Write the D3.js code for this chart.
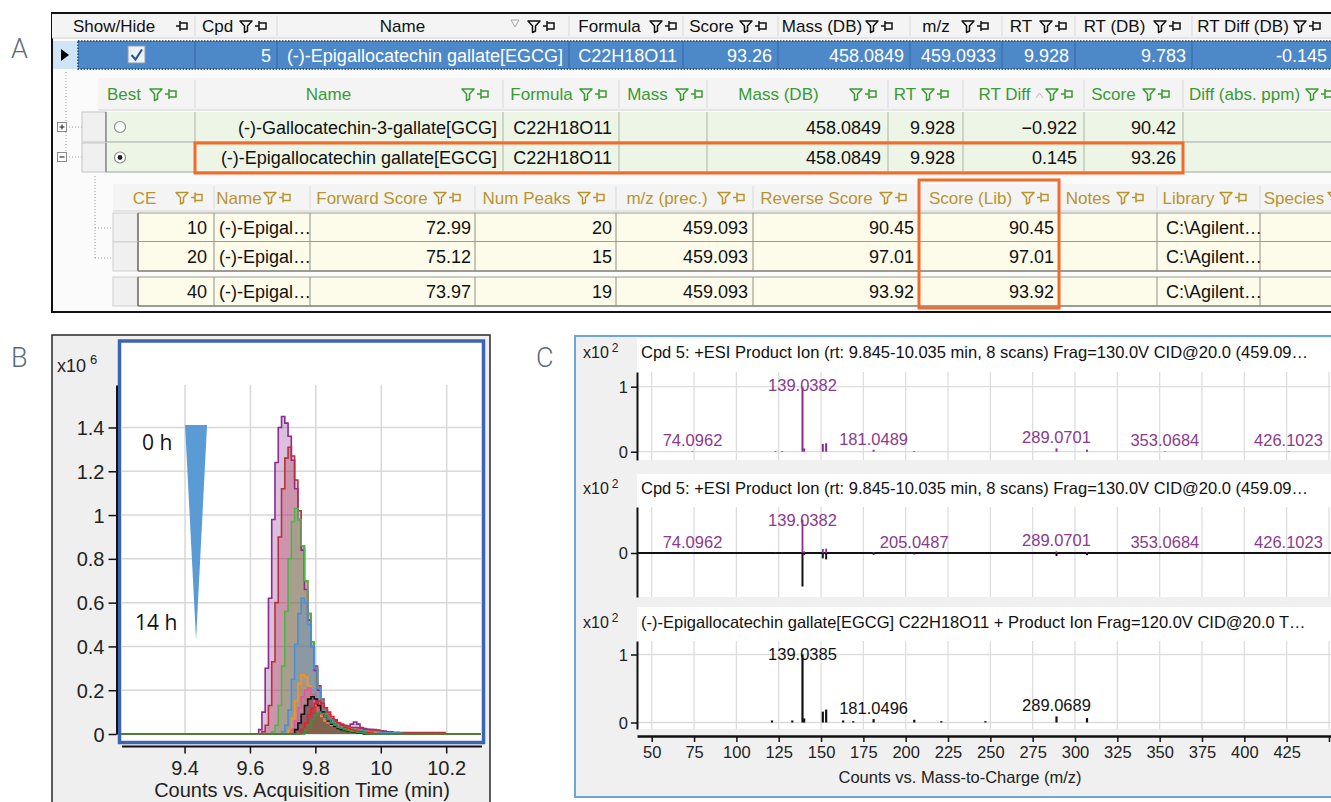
<!DOCTYPE html>
<html>
<head>
<meta charset="utf-8">
<script src="https://cdn.jsdelivr.net/npm/d3@7/dist/d3.min.js"></script>
<style>
  html, body { margin: 0; padding: 0; background: #ffffff; }
  svg { display: block; }
</style>
</head>
<body>
<svg id="figure" width="1331" height="802"></svg>
<script>
// ---------------- Panel A: identification results table ----------------
const compoundHeaders = ["Show/Hide", "Cpd", "Name", "Formula", "Score", "Mass (DB)", "m/z", "RT", "RT (DB)", "RT Diff (DB)"];
const compoundValues = ["", "5", "(-)-Epigallocatechin gallate[EGCG]", "C22H18O11", "93.26", "458.0849", "459.0933", "9.928", "9.783", "-0.145"];

const hitHeaders = ["Best", "Name", "Formula", "Mass", "Mass (DB)", "RT", "RT Diff", "Score", "Diff (abs. ppm)"];
const hitNames = ["(-)-Gallocatechin-3-gallate[GCG]", "(-)-Epigallocatechin gallate[EGCG]"];
const hitFormulas = ["C22H18O11", "C22H18O11"];
const hitMassDB = [458.0849, 458.0849];
const hitRT = [9.928, 9.928];
const hitRTDiff = [-0.922, 0.145];
const hitScores = [90.42, 93.26];
const hitBest = [false, true];

const libHeaders = ["CE", "Name", "Forward Score", "Num Peaks", "m/z (prec.)", "Reverse Score", "Score (Lib)", "Notes", "Library", "Species"];
const libCE = [10, 20, 40];
const libNames = ["(-)-Epigal\u2026", "(-)-Epigal\u2026", "(-)-Epigal\u2026"];
const libForward = [72.99, 75.12, 73.97];
const libNumPeaks = [20, 15, 19];
const libPrecursor = [459.093, 459.093, 459.093];
const libReverse = [90.45, 97.01, 93.92];
const libScore = [90.45, 97.01, 93.92];
const libLibrary = ["C:\\Agilent\u2026", "C:\\Agilent\u2026", "C:\\Agilent\u2026"];

// ---------------- Panel B: EIC of EGCG over incubation time ----------------
const rtMinutes = [9.62, 9.63, 9.64, 9.65, 9.66, 9.67, 9.68, 9.69, 9.70, 9.71, 9.72, 9.73, 9.74, 9.75, 9.76, 9.77, 9.78, 9.79, 9.80, 9.81,
  9.82, 9.83, 9.84, 9.85, 9.86, 9.87, 9.88, 9.89, 9.90, 9.91, 9.92, 9.93, 9.94, 9.95, 9.96, 9.97, 9.98, 9.99, 10.00, 10.01,
  10.02, 10.03, 10.04, 10.05, 10.06, 10.07, 10.08, 10.09, 10.10, 10.11, 10.12, 10.13, 10.14, 10.15, 10.16, 10.17, 10.18, 10.19, 10.20];
const traceColors = ["#8b2a8f", "#b3323e", "#4cb649", "#4a8fd8", "#f7931e", "#dd55ad", "#111111", "#ee1c25", "#2e9a3c"];
const traces = [
  [0, 0.02, 0.10, 0.30, 0.62, 0.98, 1.24, 1.40, 1.45, 1.42, 1.36, 1.25, 1.12, 0.98, 0.84, 0.66, 0.52, 0.40, 0.29, 0.20,
   0.14, 0.10, 0.08, 0.06, 0.055, 0.05, 0.04, 0.035, 0.035, 0.045, 0.055, 0.045, 0.03, 0.025, 0.022, 0.02, 0.02, 0.018, 0.015, 0.012,
   0.01, 0.008, 0.006, 0.004, 0.002, 0, 0, 0, 0, 0, 0, 0, 0, 0, 0, 0, 0, 0, 0],
  [0, 0, 0.01, 0.04, 0.13, 0.33, 0.60, 0.90, 1.12, 1.26, 1.31, 1.27, 1.16, 1.02, 0.86, 0.70, 0.55, 0.42, 0.31, 0.22,
   0.16, 0.12, 0.09, 0.07, 0.06, 0.05, 0.045, 0.04, 0.035, 0.03, 0.03, 0.028, 0.025, 0.022, 0.02, 0.02, 0.018, 0.016, 0.015, 0.012,
   0.01, 0.01, 0.008, 0.008, 0.007, 0.007, 0.007, 0.007, 0.007, 0.007, 0.007, 0.007, 0.007, 0.007, 0.007, 0.007, 0.007, 0.007, 0],
  [0, 0, 0, 0, 0, 0.01, 0.04, 0.13, 0.31, 0.56, 0.80, 0.97, 1.03, 0.98, 0.86, 0.70, 0.55, 0.42, 0.30, 0.21,
   0.15, 0.11, 0.08, 0.06, 0.05, 0.04, 0.035, 0.03, 0.025, 0.022, 0.02, 0.018, 0.015, 0.012, 0.01, 0.008, 0.006, 0.005, 0.004, 0.003,
   0, 0, 0, 0, 0, 0, 0, 0, 0, 0, 0, 0, 0, 0, 0, 0, 0, 0, 0],
  [0, 0, 0, 0, 0, 0, 0, 0, 0.01, 0.04, 0.11, 0.25, 0.41, 0.55, 0.62, 0.60, 0.50, 0.40, 0.30, 0.21,
   0.15, 0.11, 0.08, 0.06, 0.05, 0.04, 0.035, 0.03, 0.025, 0.02, 0.02, 0.018, 0.015, 0.012, 0.01, 0.01, 0.008, 0.008, 0.006, 0.005,
   0.005, 0.005, 0.005, 0.004, 0.003, 0, 0, 0, 0, 0, 0, 0, 0, 0, 0, 0, 0, 0, 0],
  [0, 0, 0, 0, 0, 0, 0, 0, 0, 0, 0.02, 0.07, 0.15, 0.23, 0.27, 0.26, 0.22, 0.17, 0.13, 0.10,
   0.08, 0.06, 0.05, 0.04, 0.035, 0.03, 0.025, 0.02, 0.018, 0.015, 0.012, 0.01, 0.008, 0.006, 0.005, 0.004, 0.003, 0, 0, 0,
   0, 0, 0, 0, 0, 0, 0, 0, 0, 0, 0, 0, 0, 0, 0, 0, 0, 0, 0],
  [0, 0, 0, 0, 0, 0, 0, 0, 0, 0, 0, 0.02, 0.06, 0.12, 0.17, 0.20, 0.21, 0.18, 0.14, 0.11,
   0.09, 0.07, 0.055, 0.045, 0.035, 0.03, 0.025, 0.02, 0.016, 0.012, 0.01, 0.008, 0.006, 0.004, 0, 0, 0, 0, 0, 0,
   0, 0, 0, 0, 0, 0, 0, 0, 0, 0, 0, 0, 0, 0, 0, 0, 0, 0, 0],
  [0, 0, 0, 0, 0, 0, 0, 0, 0, 0, 0, 0, 0.02, 0.05, 0.09, 0.13, 0.16, 0.17, 0.16, 0.13,
   0.10, 0.08, 0.06, 0.045, 0.035, 0.025, 0.02, 0.016, 0.012, 0.01, 0.008, 0.006, 0.004, 0, 0, 0, 0, 0, 0, 0,
   0, 0, 0, 0, 0, 0, 0, 0, 0, 0, 0, 0, 0, 0, 0, 0, 0, 0, 0],
  [0, 0, 0, 0, 0, 0, 0, 0, 0, 0, 0, 0, 0, 0, 0.02, 0.05, 0.09, 0.12, 0.14, 0.15,
   0.14, 0.12, 0.10, 0.08, 0.065, 0.05, 0.04, 0.03, 0.025, 0.02, 0.016, 0.012, 0.01, 0.008, 0.006, 0.004, 0, 0, 0, 0,
   0, 0, 0, 0, 0, 0, 0, 0, 0, 0, 0, 0, 0, 0, 0, 0, 0, 0, 0],
  [0, 0, 0, 0, 0, 0, 0, 0, 0, 0, 0, 0, 0, 0, 0, 0.02, 0.04, 0.065, 0.085, 0.10,
   0.095, 0.08, 0.065, 0.05, 0.04, 0.03, 0.025, 0.02, 0.015, 0.012, 0.01, 0.008, 0.006, 0.004, 0, 0, 0, 0, 0, 0,
   0, 0, 0, 0, 0, 0, 0, 0, 0, 0, 0, 0, 0, 0, 0, 0, 0, 0, 0]
];
const rtTicks = [9.4, 9.6, 9.8, 10, 10.2];
const rtTickLabels = ["9.4", "9.6", "9.8", "10", "10.2"];
const countTicks = [0, 0.2, 0.4, 0.6, 0.8, 1, 1.2, 1.4];
const timeLabels = ["0 h", "14 h"];

// ---------------- Panel C: MS/MS spectra (x10^2 counts) ----------------
const sampleMz = [74.0962, 123.04, 127.04, 139.0382, 140.04, 151.04, 153.02, 181.0489, 205.0487, 289.0701, 307.08, 353.0684, 426.1023];
const sampleAbund = [0.008, 0.01, 0.01, 1.0, 0.05, 0.12, 0.13, 0.03, 0.01, 0.05, 0.03, 0.006, 0.006];
const libraryMz = [121.03, 133.03, 139.0385, 140.04, 151.04, 153.02, 163.04, 169.01, 181.0496, 205.05, 221.04, 247.06, 289.0689, 307.08];
const libraryAbund = [0.03, 0.03, 1.0, 0.06, 0.16, 0.19, 0.03, 0.02, 0.05, 0.04, 0.02, 0.02, 0.09, 0.065];
const sampleLabelsTop = [74.0962, 139.0382, 181.0489, 289.0701, 353.0684, 426.1023];
const sampleLabelsMirror = [74.0962, 139.0382, 205.0487, 289.0701, 353.0684, 426.1023];
const libraryLabels = [139.0385, 181.0496, 289.0689];
const mzTicks = [50, 75, 100, 125, 150, 175, 200, 225, 250, 275, 300, 325, 350, 375, 400, 425, 450];
const spectrumTitles = [
  "Cpd 5: +ESI Product Ion (rt: 9.845-10.035 min, 8 scans) Frag=130.0V CID@20.0 (459.09\u2026",
  "Cpd 5: +ESI Product Ion (rt: 9.845-10.035 min, 8 scans) Frag=130.0V CID@20.0 (459.09\u2026",
  "(-)-Epigallocatechin gallate[EGCG] C22H18O11 + Product Ion Frag=120.0V CID@20.0 T\u2026"
];

// ======================= drawing =======================
const svg = d3.select("#figure");
const SANS = "'Liberation Sans', Arial, Helvetica, sans-serif";

function text(g, x, y, s, o = {}) {
  return g.append("text").attr("x", x).attr("y", y).text(s)
    .attr("font-family", o.family || SANS)
    .attr("font-size", o.size || 18)
    .attr("font-weight", o.weight || 400)
    .attr("fill", o.fill || "#111")
    .attr("text-anchor", o.anchor || "start");
}
function hline(g, x0, x1, y, color, w = 1, dash = null) {
  const l = g.append("line").attr("x1", x0).attr("x2", x1).attr("y1", y).attr("y2", y)
    .attr("stroke", color).attr("stroke-width", w);
  if (dash) l.attr("stroke-dasharray", dash);
  return l;
}
function vline(g, x, y0, y1, color, w = 1, dash = null) {
  const l = g.append("line").attr("x1", x).attr("x2", x).attr("y1", y0).attr("y2", y1)
    .attr("stroke", color).attr("stroke-width", w);
  if (dash) l.attr("stroke-dasharray", dash);
  return l;
}
function filterIcon(g, x, yc, color) {
  g.append("path")
    .attr("d", `M${x},${yc - 5}H${x + 12}L${x + 7.5},${yc}V${yc + 5}L${x + 4.5},${yc + 6.5}V${yc}Z`)
    .attr("fill", "none").attr("stroke", color).attr("stroke-width", 1.5).attr("stroke-linejoin", "round");
}
function pinIcon(g, x, yc, color) {
  g.append("path")
    .attr("d", `M${x},${yc}H${x + 4}M${x + 4},${yc - 5}V${yc + 5}M${x + 4},${yc - 3}H${x + 11}V${yc + 3}H${x + 4}`)
    .attr("fill", "none").attr("stroke", color).attr("stroke-width", 1.5);
}

// ---- panel letters
[["A", 11, 58], ["B", 11, 367], ["C", 536, 367]].forEach(([s, x, y]) =>
  text(svg, x, y, s, { family: "Roboto, 'Open Sans', sans-serif", size: 27, weight: 300, fill: "#5b6b7c" }));

// ================= Panel A =================
const A = svg.append("g");
A.append("rect").attr("x", 52).attr("y", 13).attr("width", 1300).attr("height", 299)
  .attr("fill", "#fbfbfb").attr("stroke", "#111").attr("stroke-width", 2);

function headerRow(cols, names, y0, y1, color) {
  const xa = cols[0][0], xb = cols[cols.length - 1][1];
  A.append("rect").attr("x", xa).attr("y", y0).attr("width", xb - xa).attr("height", y1 - y0).attr("fill", "#f4f4f4");
  hline(A, xa, xb, y1, "#d2d2d2", 1);
  const yc = (y0 + y1) / 2;
  cols.forEach((c, i) => {
    const [a, b, ix, hasFilter] = c;
    if (i > 0) vline(A, a, y0 + 2, y1 - 2, "#d9d9d9", 1);
    text(A, (a + ix) / 2, yc + 6, names[i], { anchor: "middle", fill: color, size: 17 });
    if (hasFilter) { filterIcon(A, ix, yc, color); pinIcon(A, ix + 15, yc, color); }
    else pinIcon(A, ix, yc, color);
  });
}

// compound level
const compoundCols = [[52, 195, 176, false], [195, 277, 240, true], [277, 569, 528, true], [569, 683, 650, true],
  [683, 778, 740, true], [778, 910, 866, true], [910, 1002, 962, true], [1002, 1075, 1040, true],
  [1075, 1192, 1154, true], [1192, 1340, 1294, true]];
headerRow(compoundCols, compoundHeaders, 14, 38, "#111");
A.append("path").attr("d", "M511,20H519L515,27Z").attr("fill", "none").attr("stroke", "#aaa").attr("stroke-width", 1);

// selected compound row
A.append("rect").attr("x", 53).attr("y", 41).attr("width", 25).attr("height", 28).attr("fill", "#cfe5f7");
A.append("path").attr("d", "M61,49L69,55L61,61Z").attr("fill", "#000");
A.append("rect").attr("x", 78).attr("y", 41).attr("width", 1260).attr("height", 28)
  .attr("fill", "#4d88c8").attr("stroke", "#213a66").attr("stroke-width", 1.5).attr("stroke-dasharray", "1.5,1.5");
compoundCols.slice(1).forEach(c => vline(A, c[0], 42, 68, "#3867a3", 1));
A.append("rect").attr("x", 128).attr("y", 46).attr("width", 17).attr("height", 17)
  .attr("fill", "#edf1f8").attr("stroke", "#8d9bb0").attr("stroke-width", 1);
A.append("path").attr("d", "M131.5,55L135.5,59.5L142,49.5").attr("fill", "none").attr("stroke", "#2a4d9a").attr("stroke-width", 2);
compoundValues.forEach((v, i) => {
  if (!v) return;
  const x = i === compoundValues.length - 1 ? 1327 : compoundCols[i][1] - 6;
  text(A, x, 61.5, v, { anchor: "end", fill: "#ffffff" });
});

// tree connectors
vline(A, 66, 72, 158, "#9a9a9a", 1, "1,2");
[127, 157].forEach((yc, i) => {
  hline(A, 66, 82, yc, "#9a9a9a", 1, "1,2");
  A.append("rect").attr("x", 57.5).attr("y", yc - 4.5).attr("width", 9).attr("height", 9)
    .attr("fill", "#fff").attr("stroke", "#8a8a8a").attr("stroke-width", 1);
  hline(A, 59.5, 64.5, yc, "#333", 1.2);
  if (i === 0) vline(A, 62, yc - 2.5, yc + 2.5, "#333", 1.2);
});

// candidate hits
const hitCols = [[98, 195, 150, true], [195, 503, 462, true], [503, 619, 580, true], [619, 707, 676, true],
  [707, 888, 850, true], [888, 963, 922, true], [963, 1084, 1046, true], [1084, 1183, 1143, true], [1183, 1345, 1306, true]];
headerRow(hitCols, hitHeaders, 78, 110, "#3a9a32");
A.append("path").attr("d", "M1036,98L1039.5,93L1043,98").attr("fill", "none").attr("stroke", "#bbb").attr("stroke-width", 1);

const fmt4 = d3.format(".4f"), fmt3 = d3.format(".3f"), fmt2 = d3.format(".2f");
const hitRowsY = [[112, 142], [143, 172]];
hitRowsY.forEach(([y0, y1], r) => {
  A.append("rect").attr("x", 82).attr("y", y0).attr("width", 24).attr("height", y1 - y0)
    .attr("fill", "#f0f0f0").attr("stroke", "#c4c4c4").attr("stroke-width", 1);
  A.append("rect").attr("x", 106).attr("y", y0).attr("width", 1240).attr("height", y1 - y0).attr("fill", "#edf5e6");
  vline(A, 106, y0, y1, "#6f6f6f", 1.2);
  hline(A, 106, 1331, y1, "#9aa59a", 1);
  hitCols.slice(1).forEach(c => vline(A, c[0], y0, y1, "#aab3a6", 1));
  const yb = (y0 + y1) / 2 + 6.5;
  A.append("circle").attr("cx", 120).attr("cy", (y0 + y1) / 2).attr("r", 5.5)
    .attr("fill", "#fff").attr("stroke", "#8c8c8c").attr("stroke-width", 1.2);
  if (hitBest[r]) A.append("circle").attr("cx", 120).attr("cy", (y0 + y1) / 2).attr("r", 2.4).attr("fill", "#222");
  text(A, 497, yb, hitNames[r], { anchor: "end" });
  text(A, 612, yb, hitFormulas[r], { anchor: "end" });
  text(A, 881, yb, fmt4(hitMassDB[r]), { anchor: "end" });
  text(A, 955, yb, fmt3(hitRT[r]), { anchor: "end" });
  text(A, 1077, yb, fmt3(hitRTDiff[r]), { anchor: "end" });
  text(A, 1176, yb, fmt2(hitScores[r]), { anchor: "end" });
});
A.append("rect").attr("x", 195).attr("y", 143).attr("width", 988).attr("height", 30)
  .attr("fill", "none").attr("stroke", "#f26b2a").attr("stroke-width", 3);

// library spectra matches
vline(A, 95, 176, 258, "#9a9a9a", 1, "1,2");
[228, 258].forEach(y => hline(A, 95, 113, y, "#9a9a9a", 1, "1,2"));
const libCols = [[113, 214, 176, true], [214, 310, 264, true], [310, 475, 434, true], [475, 616, 578, true],
  [616, 753, 718, true], [753, 919, 880, true], [919, 1059, 1022, true], [1059, 1157, 1117, true],
  [1157, 1260, 1220, true], [1260, 1345, 1328, true]];
headerRow(libCols, libHeaders, 184, 211, "#b8952f");
const libRowsY = [[213, 242], [242, 271], [277, 306]];
libRowsY.forEach(([y0, y1], r) => {
  A.append("rect").attr("x", 113).attr("y", y0).attr("width", 25).attr("height", y1 - y0)
    .attr("fill", "#f0f0f0").attr("stroke", "#d0d0d0").attr("stroke-width", 1);
  A.append("rect").attr("x", 138).attr("y", y0).attr("width", 1200).attr("height", y1 - y0).attr("fill", "#fdfbea");
  vline(A, 138, y0, y1, "#555", 1.3);
  hline(A, 138, 1331, y1, "#7d7d76", 1.3);
  if (r !== 1) hline(A, 138, 1331, y0, "#9a9a90", 1);
  libCols.slice(1).forEach(c => vline(A, c[0], y0, y1, "#8f8f86", 1));
  const yb = (y0 + y1) / 2 + 6.5;
  text(A, 207, yb, String(libCE[r]), { anchor: "end" });
  text(A, 219, yb, libNames[r]);
  text(A, 471, yb, fmt2(libForward[r]), { anchor: "end" });
  text(A, 612, yb, String(libNumPeaks[r]), { anchor: "end" });
  text(A, 748, yb, fmt3(libPrecursor[r]), { anchor: "end" });
  text(A, 914, yb, fmt2(libReverse[r]), { anchor: "end" });
  text(A, 1054, yb, fmt2(libScore[r]), { anchor: "end" });
  text(A, 1166, yb, libLibrary[r]);
});
A.append("rect").attr("x", 919).attr("y", 180).attr("width", 140).attr("height", 128)
  .attr("fill", "none").attr("stroke", "#f26b2a").attr("stroke-width", 3);

// ================= Panel B =================
const B = svg.append("g");
B.append("rect").attr("x", 52).attr("y", 335).attr("width", 438).attr("height", 480)
  .attr("fill", "#efefef").attr("stroke", "#2a2a2a").attr("stroke-width", 1.5);
B.append("rect").attr("x", 119.5).attr("y", 341).attr("width", 364).attr("height", 401.5)
  .attr("fill", "#ffffff").attr("stroke", "#3d64b4").attr("stroke-width", 3.5);

const xB = d3.scaleLinear().domain([9.195, 10.311]).range([118, 483]);
const yB = d3.scaleLinear().domain([0, 1.594]).range([734, 385]);

// grid
const gridB = B.append("g");
gridB.selectAll("line.v").data(rtTicks).join("line").attr("class", "v")
  .attr("x1", d => xB(d)).attr("x2", d => xB(d)).attr("y1", yB(1.594)).attr("y2", yB(0))
  .attr("stroke", "#d8d8d8").attr("stroke-width", 1.5);
gridB.selectAll("line.h").data(countTicks).join("line").attr("class", "h")
  .attr("x1", 121).attr("x2", 481).attr("y1", d => yB(d)).attr("y2", d => yB(d))
  .attr("stroke", "#d8d8d8").attr("stroke-width", 1.5);

// traces
const clipB = svg.append("defs").append("clipPath").attr("id", "clipB");
clipB.append("rect").attr("x", 121).attr("y", 343).attr("width", 360).attr("height", 397);
const plotB = B.append("g").attr("clip-path", "url(#clipB)");
const xDom = xB.domain();
const traceData = traces.map(vals => [[xDom[0], 0], ...rtMinutes.map((t, i) => [t, vals[i]]), [xDom[1], 0]]);
const areaB = d3.area().x(d => xB(d[0])).y0(yB(0)).y1(d => yB(d[1])).curve(d3.curveStep);
const lineB = d3.line().x(d => xB(d[0])).y(d => yB(d[1])).curve(d3.curveStep);
traceData.forEach((d, i) => plotB.append("path").attr("d", areaB(d))
  .attr("fill", traceColors[i]).attr("fill-opacity", 0.3));
traceData.forEach((d, i) => plotB.append("path").attr("d", lineB(d))
  .attr("fill", "none").attr("stroke", traceColors[i]).attr("stroke-width", 1.6));

// axes
const axYB = B.append("g").attr("transform", "translate(116.5,0)")
  .call(d3.axisLeft(yB).tickValues(countTicks).tickFormat(d3.format("~g")).tickSize(8).tickSizeOuter(0).tickPadding(4));
axYB.select(".domain").attr("stroke", "#111").attr("stroke-width", 2);
axYB.selectAll(".tick line").attr("stroke", "#111").attr("stroke-width", 1.5);
axYB.selectAll(".tick text").attr("font-family", SANS).attr("font-size", 20).attr("fill", "#222").attr("dy", "0.35em");

const axXB = B.append("g").attr("transform", "translate(0,746.5)");
hline(axXB, 122, 482, 0, "#111", 2);
axXB.selectAll("line.tk").data(rtTicks).join("line").attr("class", "tk")
  .attr("x1", d => xB(d)).attr("x2", d => xB(d)).attr("y1", 0).attr("y2", 7)
  .attr("stroke", "#111").attr("stroke-width", 1.5);
axXB.selectAll("text.tl").data(rtTicks).join("text").attr("class", "tl")
  .attr("x", d => xB(d)).attr("y", 28).attr("text-anchor", "middle")
  .attr("font-family", SANS).attr("font-size", 20).attr("fill", "#222")
  .text((d, i) => rtTickLabels[i]);
text(B, 302, 797, "Counts vs. Acquisition Time (min)", { anchor: "middle", size: 20, fill: "#222" });
const multB = text(B, 57, 372, "x10", { size: 18, fill: "#222" });
multB.append("tspan").attr("dx", 4).attr("dy", -8).attr("font-size", 13).text("6");

// time-course wedge
B.append("path").attr("d", `M${xB(9.4)},425H${xB(9.4) + 22}L${xB(9.4) + 11},640Z`).attr("fill", "#5b9bd5");
text(B, 142, 450, timeLabels[0], { family: "'Open Sans', Lato, sans-serif", size: 21, fill: "#111" });
text(B, 135, 630, timeLabels[1], { family: "'Open Sans', Lato, sans-serif", size: 21, fill: "#111" });

// ================= Panel C =================
const C = svg.append("g");
C.append("rect").attr("x", 575).attr("y", 336).attr("width", 780).attr("height", 461)
  .attr("fill", "#f0f0f0").attr("stroke", "#6fa6da").attr("stroke-width", 2);

const xC = d3.scaleLinear().domain([41.3, 451.2]).range([637, 1331]);
const fmtMz = d3.format(".4f");
const PURPLE = "#8b2a8f", PURPLE_TXT = "#8a3a8f";

const panels = [
  { top: 338, bottom: 460, plotTop: 372, y0: 451.7, y1: 386.7, titleY: 358, ticks: [0, 1],
    peaks: [{ mz: sampleMz, ab: sampleAbund, sign: 1, color: PURPLE, w: 2 }],
    labels: [{ list: sampleLabelsTop, mz: sampleMz, ab: sampleAbund, color: PURPLE_TXT }], zeroLine: "#dcdcdc" },
  { top: 474, bottom: 597, plotTop: 507, y0: 553, y1: 519.5, titleY: 494, ticks: [0],
    peaks: [{ mz: sampleMz, ab: sampleAbund, sign: 1, color: PURPLE, w: 1.8 },
            { mz: libraryMz, ab: libraryAbund, sign: -1, color: "#111", w: 2 }],
    labels: [{ list: sampleLabelsMirror, mz: sampleMz, ab: sampleAbund, color: PURPLE_TXT }], zeroLine: "#111" },
  { top: 607, bottom: 729, plotTop: 641, y0: 722.5, y1: 654.5, titleY: 628, ticks: [0, 1],
    peaks: [{ mz: libraryMz, ab: libraryAbund, sign: 1, color: "#111", w: 2.2 }],
    labels: [{ list: libraryLabels, mz: libraryMz, ab: libraryAbund, color: "#111" }], zeroLine: "#dcdcdc" }
];

panels.forEach((p, k) => {
  const unit = p.y0 - p.y1;
  const yC = d3.scaleLinear()
    .domain([(p.y0 - p.bottom) / unit, (p.y0 - p.plotTop) / unit])
    .range([p.bottom, p.plotTop]);
  C.append("rect").attr("x", 637).attr("y", p.top).attr("width", 694).attr("height", p.bottom - p.top).attr("fill", "#ffffff");
  // title and multiplier
  const m = text(C, 583, p.titleY, "x10", { size: 16, fill: "#222" });
  m.append("tspan").attr("dx", 3).attr("dy", -6).attr("font-size", 12).text("2");
  text(C, 641, p.titleY, spectrumTitles[k], { size: 16.5, fill: "#111" });
  // grid
  mzTicks.forEach(t => vline(C, xC(t), p.plotTop, p.bottom, "#dedede", 1.3));
  p.ticks.forEach(t => hline(C, 638, 1331, yC(t), t === 0 ? p.zeroLine : "#dedede", t === 0 && k === 1 ? 2 : 1.3));
  // peaks
  p.peaks.forEach(s => {
    C.append("g").selectAll("line").data(s.mz).join("line")
      .attr("x1", d => xC(d)).attr("x2", d => xC(d))
      .attr("y1", yC(0)).attr("y2", (d, i) => yC(s.sign * s.ab[i]))
      .attr("stroke", s.color).attr("stroke-width", s.w);
  });
  // peak annotations
  p.labels.forEach(L => {
    L.list.forEach(v => {
      const i = L.mz.indexOf(v);
      const yb = Math.max(yC(L.ab[i]) - 5, p.plotTop + 19);
      text(C, xC(v), yb, fmtMz(v), { anchor: "middle", size: 16.5, fill: L.color });
    });
  });
  // y axis
  const ax = C.append("g").attr("transform", "translate(637,0)")
    .call(d3.axisLeft(yC).tickValues(p.ticks).tickFormat(d3.format("d")).tickSize(6).tickSizeOuter(0).tickPadding(3));
  ax.select(".domain").attr("stroke", "#111").attr("stroke-width", 2);
  ax.selectAll(".tick line").attr("stroke", "#111").attr("stroke-width", 1.5);
  ax.selectAll(".tick text").attr("font-family", SANS).attr("font-size", 16.5).attr("fill", "#222").attr("dy", "0.35em");
});

const axXC = C.append("g").attr("transform", "translate(0,736)")
  .call(d3.axisBottom(xC).tickValues(mzTicks).tickFormat(d => d < 450 ? d : "").tickSize(6).tickSizeOuter(0).tickPadding(4));
axXC.select(".domain").attr("stroke", "#111").attr("stroke-width", 2.5);
axXC.selectAll(".tick line").attr("stroke", "#111").attr("stroke-width", 1.5);
axXC.selectAll(".tick text").attr("font-family", SANS).attr("font-size", 16.5).attr("fill", "#222");
text(C, 960, 783, "Counts vs. Mass-to-Charge (m/z)", { anchor: "middle", size: 16.5, fill: "#222" });
</script>
</body>
</html>
